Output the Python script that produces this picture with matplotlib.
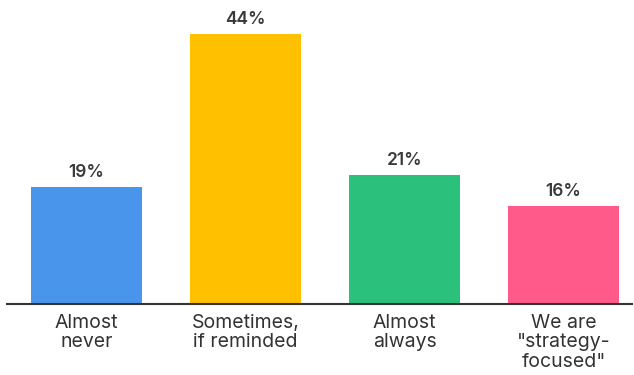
import matplotlib.pyplot as plt

categories = ['Almost\nnever', 'Sometimes,\nif reminded', 'Almost\nalways', 'We are\n"strategy-\nfocused"']
values = [19, 44, 21, 16]
colors = ['#4A95EC', '#FFC000', '#2BC07C', '#FF5A8A']

plt.rcParams['font.family'] = ['Inter', 'DejaVu Sans']

fig = plt.figure(figsize=(6.34, 3.75), dpi=100)
ax = fig.add_axes([7 / 634, 71 / 375, 625 / 634, 304 / 375])

x = list(range(len(values)))
ax.bar(x, values, width=0.70, color=colors, zorder=2)

for xi, v in zip(x, values):
    ax.text(xi, v + 1.0, f'{v}%', ha='center', va='bottom',
            fontsize=12.5, fontweight='semibold', color='#3a3a3a')

ax.set_xlim(-0.5, 3.43)
ax.set_ylim(0, 49.5)
ax.set_yticks([])
ax.set_xticks(x)
ax.set_xticklabels(categories, fontsize=14, color='#333333', linespacing=1.12)
ax.tick_params(axis='x', length=0, pad=7)

for side in ['top', 'right', 'left']:
    ax.spines[side].set_visible(False)
ax.spines['bottom'].set_color('#333333')
ax.spines['bottom'].set_linewidth(1.5)

fig.savefig('out.png', dpi=100)
